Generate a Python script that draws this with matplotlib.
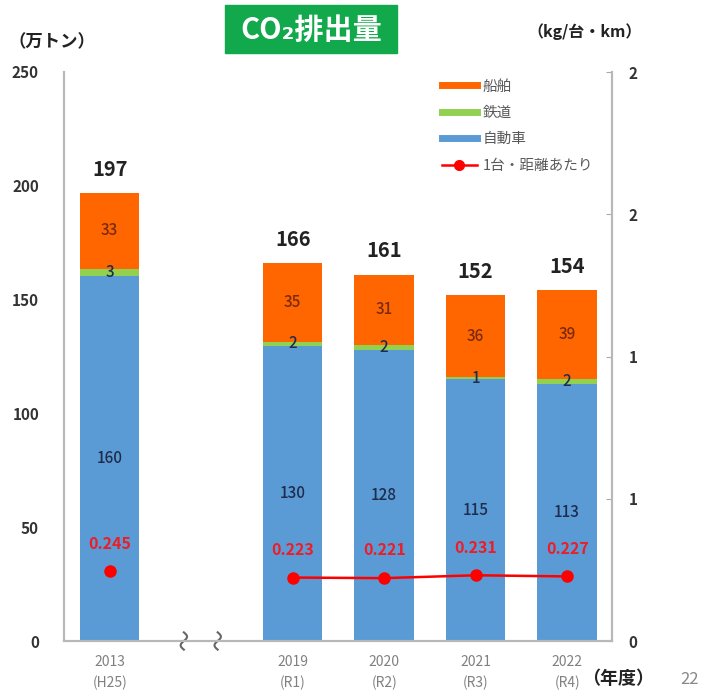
import numpy as np
import matplotlib
matplotlib.use("Agg")
import matplotlib.pyplot as plt
from matplotlib.lines import Line2D
from matplotlib.patches import Rectangle

plt.rcParams['font.family'] = ['Noto Sans CJK JP', 'DejaVu Sans']

# fiscal years (x positions leave a gap for the axis break after 2013)
years = ['2013\n(H25)', '2019\n(R1)', '2020\n(R2)', '2021\n(R3)', '2022\n(R4)']
xpos = [0, 2, 3, 4, 5]

# CO2 emissions (10k t) by mode
car = [160.4, 129.8, 128, 115, 113]
rail = [3.2, 1.6, 2, 1, 2]
ship = [33.4, 34.6, 31, 36, 39]

# emissions per vehicle-km (kg)
per_km = [0.245, 0.223, 0.221, 0.231, 0.227]

c_car = '#5b9bd5'
c_rail = '#92d050'
c_ship = '#ff6600'
c_red = '#ff0000'

fig = plt.figure(figsize=(7.04, 6.91), dpi=100)
ax = fig.add_axes([64/704, 50/691, 548/704, 569/691])
ax2 = ax.twinx()

w = 0.65
car = np.array(car)
rail = np.array(rail)
ship = np.array(ship)
ax.bar(xpos, car, w, color=c_car)
ax.bar(xpos, rail, w, bottom=car, color=c_rail)
ax.bar(xpos, ship, w, bottom=car + rail, color=c_ship)
total = car + rail + ship

for x, a, b, c, t in zip(xpos, car, rail, ship, total):
    ax.text(x, a / 2, '%.0f' % a, ha='center', va='center', fontsize=11,
            fontweight='medium', color='#1f2d4d')
    ax.text(x, a + b / 2, '%.0f' % b, ha='center', va='center', fontsize=11,
            fontweight='medium', color='#1f2d4d')
    ax.text(x, a + b + c / 2, '%.0f' % c, ha='center', va='center', fontsize=11,
            fontweight='medium', color='#7a2a10')
    ax.annotate('%.0f' % t, (x, t), xytext=(0, 17), textcoords='offset points',
                ha='center', va='center', fontsize=14.5, fontweight='bold', color='#222222')

ax.set_xlim(-0.50, 5.49)
ax.set_ylim(0, 250)
ax.set_yticks(range(0, 251, 50))
ax.set_xticks(xpos)
ax.set_xticklabels(years, fontsize=10, color='#808080', linespacing=1.55)
ax.tick_params(axis='x', length=0, pad=10)
ax.tick_params(axis='y', length=0, pad=18, labelsize=11, labelcolor='#333333')
for lab in ax.get_yticklabels():
    lab.set_fontweight('bold')

# per-km line: 2013 stands alone, 2019-2022 joined
ax2.plot(xpos[:1], per_km[:1], 'o', color=c_red, ms=8)
ax2.plot(xpos[1:], per_km[1:], '-o', color=c_red, ms=8, lw=1.8)
for x, v in zip(xpos, per_km):
    ax2.annotate('%.3f' % v, (x, v), xytext=(0, 20), textcoords='offset points',
                 ha='center', va='center', fontsize=11.5, fontweight='bold', color='#ee1c25')
ax2.set_ylim(0, 2)
ax2.set_yticks([0, 0.5, 1, 1.5, 2])
ax2.set_yticklabels(['0', '1', '1', '2', '2'])
ax2.tick_params(axis='y', direction='in', length=4, color='#aaaaaa', pad=12,
                labelsize=11, labelcolor='#333333')
for lab in ax2.get_yticklabels():
    lab.set_fontweight('bold')

for a in (ax, ax2):
    a.spines['top'].set_visible(False)
    for s in ('left', 'right', 'bottom'):
        a.spines[s].set_color('#b8b8b8')
        a.spines[s].set_linewidth(1.5)

# axis break marks
for xb in (0.81, 1.18):
    t = np.linspace(-1, 1, 30)
    ax.plot(xb + 0.035 * np.sin(np.pi * t), 3.8 * t, color='#666666', lw=1.5,
            clip_on=False, zorder=5)

handles = [Line2D([], [], color=c_ship, lw=5),
           Line2D([], [], color=c_rail, lw=5),
           Line2D([], [], color=c_car, lw=5),
           Line2D([], [], color=c_red, lw=1.8, marker='o', ms=7)]
labels = ['船舶', '鉄道', '自動車', '1台・距離あたり']
ax2.legend(handles, labels, loc='upper left', bbox_to_anchor=(0.665, 1.01),
           frameon=False, fontsize=10.5, labelcolor='#595959', labelspacing=0.85,
           handlelength=2.4, handletextpad=0.4)

# title box
fig.add_artist(Rectangle((225/704, 1 - 53/691), 172/704, 48/691,
                         transform=fig.transFigure, color='#12a84c', zorder=0))
fig.text(311/704, 1 - 30/691, 'CO₂排出量', ha='center', va='center',
         fontsize=21, color='white', fontweight='bold')

fig.text(8/704, 1 - 42/691, '（万トン）', ha='left', va='center',
         fontsize=12.5, fontweight='bold', color='#222222')
fig.text(642/704, 1 - 32/691, '（kg/台・km）', ha='right', va='center',
         fontsize=11.5, fontweight='bold', color='#222222')
fig.text(582/704, 1 - 678/691, '（年度）', ha='left', va='center',
         fontsize=13, fontweight='bold', color='#222222')
fig.text(680/704, 1 - 680/691, '22', ha='left', va='center',
         fontsize=12, color='#888888')

fig.savefig('out.png', dpi=100)
